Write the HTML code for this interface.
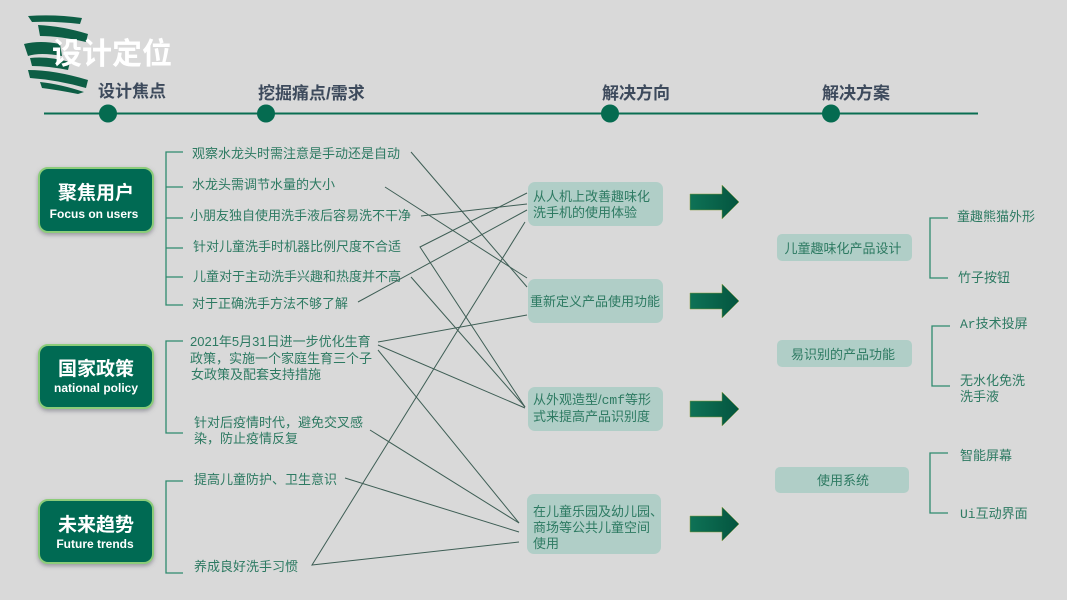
<!DOCTYPE html>
<html><head><meta charset="utf-8"><style>
html,body{margin:0;padding:0;background:#d9d9d9;}
svg{display:block;font-family:"Liberation Sans","Noto Sans CJK SC",sans-serif;}
.t{fill:#2d7a62;font-size:13px;}
.m{font-family:"Liberation Mono",monospace;}
.h{fill:#3d4a5c;font-size:17px;font-weight:bold;}
.l{stroke:#3e5e55;stroke-width:1;fill:none;}
.b{stroke:#2f8a6e;stroke-width:1.3;fill:none;}
</style></head><body>
<svg width="1067" height="600" viewBox="0 0 1067 600">
<defs>
<linearGradient id="ag" x1="0" y1="0" x2="1" y2="0"><stop offset="0" stop-color="#0e7256"/><stop offset="1" stop-color="#04553f"/></linearGradient>
<filter id="gl" x="-20%" y="-20%" width="140%" height="140%"><feDropShadow dx="0" dy="2" stdDeviation="2" flood-color="#556" flood-opacity="0.5"/></filter>
</defs>
<!-- brush -->
<g fill="#0d5e45">
<path d="M28 16 Q55 14 82 18 L80 24 Q55 21 32 22Z"/>
<path d="M38 25 Q62 26 88 34 L86 42 Q60 36 40 36Z"/>
<path d="M24 44 Q40 40 60 44 L62 56 Q40 52 28 56Z"/>
<path d="M30 58 Q48 56 70 62 L68 70 Q48 66 32 66Z"/>
<path d="M28 70 Q55 70 88 80 L86 88 Q58 80 30 78Z"/>
<path d="M40 82 Q60 84 84 92 L78 94 Q58 90 42 88Z"/>
</g>
<text x="52" y="64" fill="#fff" font-size="30" font-weight="bold">设计定位</text>
<!-- timeline -->
<line x1="44" y1="113.5" x2="978" y2="113.5" stroke="#0a6e52" stroke-width="2"/>
<g fill="#056b50"><circle cx="108" cy="113.5" r="9"/><circle cx="266" cy="113.5" r="9"/><circle cx="610" cy="113.5" r="9"/><circle cx="831" cy="113.5" r="9"/></g>
<text class="h" x="98" y="97">设计焦点</text>
<text class="h" x="258" y="99">挖掘痛点/需求</text>
<text class="h" x="602" y="99">解决方向</text>
<text class="h" x="822" y="99">解决方案</text>
<!-- left boxes -->
<g filter="url(#gl)">
<rect x="39" y="168" width="114" height="64" rx="9" fill="#056b52" stroke="#8ccc7a" stroke-width="2"/>
<rect x="39" y="345" width="114" height="63" rx="9" fill="#056b52" stroke="#8ccc7a" stroke-width="2"/>
<rect x="39" y="500" width="114" height="63" rx="9" fill="#056b52" stroke="#8ccc7a" stroke-width="2"/>
</g>
<g fill="#fff" text-anchor="middle" font-weight="bold">
<text x="96" y="199" font-size="19">聚焦用户</text><text x="94" y="218" font-size="12">Focus on users</text>
<text x="96" y="375" font-size="19">国家政策</text><text x="96" y="392" font-size="12">national policy</text>
<text x="96" y="531" font-size="19">未来趋势</text><text x="95" y="548" font-size="12">Future trends</text>
</g>
<!-- left brackets -->
<path class="b" d="M183 152H166V305H183M166 187H183M166 218H183M166 248H183M166 277H183"/>
<path class="b" d="M183 341H166V433H183"/>
<path class="b" d="M183 481H166V573H183"/>
<g class="t">
<text x="192" y="158">观察水龙头时需注意是手动还是自动</text>
<text x="192" y="189">水龙头需调节水量的大小</text>
<text x="190" y="220">小朋友独自使用洗手液后容易洗不干净</text>
<text x="193" y="251">针对儿童洗手时机器比例尺度不合适</text>
<text x="193" y="281">儿童对于主动洗手兴趣和热度并不高</text>
<text x="192" y="308">对于正确洗手方法不够了解</text>
<text x="190" y="346">2021年5月31日进一步优化生育</text>
<text x="190" y="363">政策，实施一个家庭生育三个子</text>
<text x="191" y="379">女政策及配套支持措施</text>
<text x="194" y="427">针对后疫情时代，避免交叉感</text>
<text x="194" y="443">染，防止疫情反复</text>
<text x="194" y="484">提高儿童防护、卫生意识</text>
<text x="194" y="571">养成良好洗手习惯</text>
</g>
<!-- connectors -->
<g class="l">
<line x1="411" y1="152" x2="527" y2="287"/>
<line x1="385" y1="187" x2="527" y2="278"/>
<line x1="421" y1="216" x2="527" y2="204"/>
<path d="M527 193L420 247L525 407"/>
<line x1="411" y1="277" x2="525" y2="407"/>
<line x1="358" y1="302" x2="527" y2="210"/>
<line x1="378" y1="342" x2="527" y2="315"/>
<line x1="378" y1="345" x2="525" y2="408"/>
<line x1="378" y1="350" x2="519" y2="523"/>
<line x1="370" y1="430" x2="519" y2="523"/>
<line x1="345" y1="478" x2="519" y2="532"/>
<path d="M525 222L312 565L519 542"/>
</g>
<!-- middle boxes -->
<g fill="#b0cec7">
<rect x="528" y="182" width="135" height="44" rx="7"/>
<rect x="528" y="279" width="135" height="44" rx="7"/>
<rect x="528" y="387" width="135" height="44" rx="7"/>
<rect x="527" y="494" width="134" height="60" rx="7"/>
</g>
<g class="t">
<text x="533" y="201">从人机上改善趣味化</text><text x="533" y="217">洗手机的使用体验</text>
<text x="530" y="306">重新定义产品使用功能</text>
<text x="533" y="404">从外观造型/<tspan class="m">cmf</tspan>等形</text><text x="533" y="421">式来提高产品识别度</text>
<text x="533" y="516">在儿童乐园及幼儿园、</text><text x="533" y="532">商场等公共儿童空间</text><text x="533" y="548">使用</text>
</g>
<!-- arrows -->
<g fill="url(#ag)" stroke="#8a9a3a" stroke-width="0.5">
<path d="M690 194H722V185L739 202L722 219V210H690Z"/>
<path d="M690 293H722V284L739 301L722 318V309H690Z"/>
<path d="M690 401H722V392L739 409L722 426V417H690Z"/>
<path d="M690 516H722V507L739 524L722 541V532H690Z"/>
</g>
<!-- right boxes -->
<g fill="#b0cec7">
<rect x="777" y="234" width="135" height="27" rx="5"/>
<rect x="777" y="340" width="135" height="27" rx="5"/>
<rect x="775" y="467" width="134" height="26" rx="5"/>
</g>
<g class="t" text-anchor="middle">
<text x="843" y="253">儿童趣味化产品设计</text>
<text x="843" y="359">易识别的产品功能</text>
<text x="843" y="485">使用系统</text>
</g>
<path class="b" d="M948 218H930V278H948"/>
<path class="b" d="M950 326H932V386H950"/>
<path class="b" d="M948 453H930V513H948"/>
<g class="t">
<text x="957" y="221">童趣熊猫外形</text>
<text x="958" y="282">竹子按钮</text>
<text x="960" y="328"><tspan class="m">Ar</tspan>技术投屏</text>
<text x="960" y="385">无水化免洗</text><text x="960" y="401">洗手液</text>
<text x="960" y="460">智能屏幕</text>
<text x="960" y="518"><tspan class="m">Ui</tspan>互动界面</text>
</g>
</svg>
</body></html>
